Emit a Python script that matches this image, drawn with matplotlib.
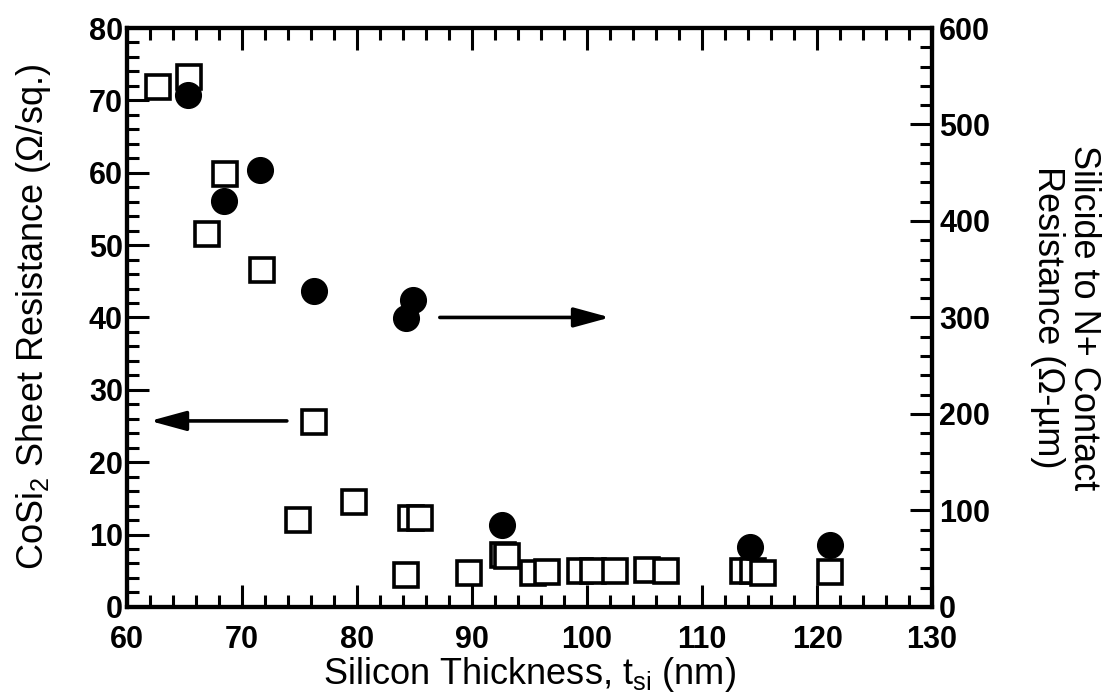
import matplotlib
matplotlib.use("Agg")
import matplotlib.pyplot as plt
from matplotlib.ticker import MultipleLocator

plt.rcParams['font.family'] = ['Liberation Sans', 'DejaVu Sans']
plt.rcParams['mathtext.default'] = 'regular'

# Sheet resistance (left axis, ohm/sq) vs silicon thickness (nm)
sheet_x = [62.7, 65.4, 68.5, 67.0, 71.7, 76.3, 74.9, 79.7, 84.7, 85.5, 84.3,
           89.7, 92.7, 93.0, 95.3, 96.5, 99.4, 100.5, 102.4, 105.2, 106.9,
           113.6, 114.4, 115.3, 121.1]
sheet_y = [71.8, 73.2, 59.8, 51.5, 46.6, 25.5, 12.0, 14.5, 12.3, 12.3, 4.4,
           4.7, 7.2, 7.0, 4.7, 4.8, 4.9, 5.0, 5.0, 5.1, 4.9,
           5.0, 4.9, 4.7, 4.8]

# Contact resistance (right axis, ohm-um)
contact_x = [65.3, 68.4, 71.6, 76.3, 84.9, 84.3, 92.6, 114.2, 121.1]
contact_y = [531, 421, 453, 327, 318, 299, 85, 62, 64]

fig = plt.figure(figsize=(11.12, 7.0), dpi=100)
ax = fig.add_axes([0.1142, 0.133, 0.7240, 0.827])
ax2 = ax.twinx()

ax.plot(sheet_x, sheet_y, linestyle='none', marker='s', markersize=17,
        markerfacecolor='white', markeredgecolor='black', markeredgewidth=2.6, zorder=3)
ax2.plot(contact_x, contact_y, linestyle='none', marker='o', markersize=18.5,
         markerfacecolor='black', markeredgecolor='black', zorder=3)

ax.set_xlim(60, 130)
ax.set_ylim(0, 80)
ax2.set_ylim(0, 600)

ax.xaxis.set_major_locator(MultipleLocator(10))
ax.xaxis.set_minor_locator(MultipleLocator(2))
ax.yaxis.set_major_locator(MultipleLocator(10))
ax.yaxis.set_minor_locator(MultipleLocator(2))
ax2.yaxis.set_major_locator(MultipleLocator(100))
ax2.yaxis.set_minor_locator(MultipleLocator(20))

ax.tick_params(axis='both', which='major', direction='in', length=16, width=2.2,
               labelsize=22, top=True)
ax.tick_params(axis='both', which='minor', direction='in', length=8.5, width=2.2, top=True)
ax.tick_params(axis='y', which='both', right=False)
ax2.tick_params(axis='y', which='major', direction='in', length=16, width=2.2, labelsize=22)
ax2.tick_params(axis='y', which='minor', direction='in', length=8.5, width=2.2)
ax.tick_params(axis='x', pad=13)
ax.tick_params(axis='y', pad=3)
ax2.tick_params(axis='y', pad=5)

for a in (ax, ax2):
    for s in a.spines.values():
        s.set_linewidth(3.0)
for lab in ax.get_xticklabels() + ax.get_yticklabels() + ax2.get_yticklabels():
    lab.set_fontweight('bold')

ax.set_xlabel('Silicon Thickness, t$_{si}$ (nm)', fontsize=26, labelpad=0)
ax.set_ylabel('CoSi$_{2}$ Sheet Resistance (\u03a9/sq.)', fontsize=26, labelpad=26)
ax2.set_ylabel('Silicide to N+ Contact\nResistance (\u03a9-\u00b5m)', fontsize=26,
               rotation=270, labelpad=80, linespacing=1.05)

# arrows indicating axes
ax.annotate('', xy=(62.0, 25.7), xytext=(73.9, 25.7),
            arrowprops=dict(arrowstyle='-|>,head_length=2.2,head_width=0.6',
                            color='black', lw=2.6, shrinkA=0, shrinkB=0))
ax2.annotate('', xy=(102.0, 300), xytext=(87.2, 300),
             arrowprops=dict(arrowstyle='-|>,head_length=2.2,head_width=0.6',
                             color='black', lw=2.6, shrinkA=0, shrinkB=0))

fig.savefig('out.png', dpi=100, facecolor='white')
